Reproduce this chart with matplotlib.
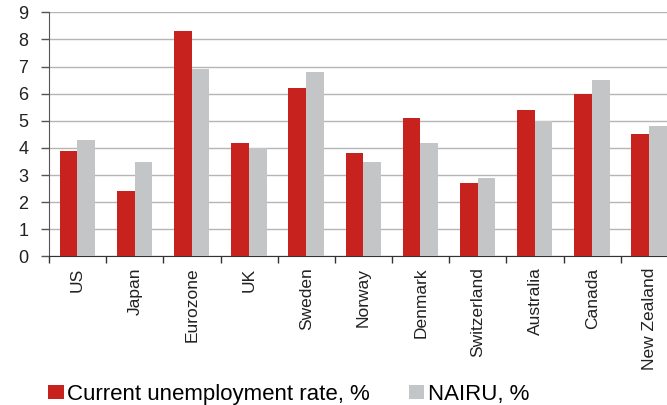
import numpy as np
import matplotlib
matplotlib.use("Agg")
import matplotlib.pyplot as plt

plt.rcParams['font.family'] = ['Liberation Sans', 'DejaVu Sans']

countries = ["US", "Japan", "Eurozone", "UK", "Sweden", "Norway", "Denmark",
             "Switzerland", "Australia", "Canada", "New Zealand"]
current = [3.9, 2.4, 8.3, 4.2, 6.2, 3.8, 5.1, 2.7, 5.4, 6.0, 4.5]
nairu = [4.3, 3.5, 6.9, 4.0, 6.8, 3.5, 4.2, 2.9, 5.0, 6.5, 4.8]

red = '#C8221F'
grey = '#C4C5C7'


def main():
    fig = plt.figure(figsize=(6.67, 4.05), dpi=100)
    # axes runs a bit past the right edge, like the original
    ax = fig.add_axes([0.0735, 0.3667, 0.943, 0.603])

    x = np.arange(len(countries))
    w = 0.31
    ax.bar(x - 0.16, current, w, color=red, label="Current unemployment rate, %", zorder=3)
    ax.bar(x + 0.15, nairu, w, color=grey, label="NAIRU, %", zorder=3)

    ax.set_xlim(-0.5, len(countries) - 0.5)
    ax.set_ylim(0, 9)
    ax.set_yticks(range(10))
    ax.yaxis.grid(True, color='#B5B5B5', linewidth=1.0, zorder=0)
    ax.tick_params(axis='y', length=6, width=1, color='#555555', pad=9,
                   labelsize=13, labelcolor='#222222')

    ax.set_xticks(x)
    ax.set_xticklabels(countries, rotation=90, fontsize=12.5, color='#222222')
    ax.set_xticks(np.arange(-0.5, len(countries), 1), minor=True)
    ax.tick_params(axis='x', which='major', length=0, pad=8)
    ax.tick_params(axis='x', which='minor', length=5, width=1, color='#333333')

    for s in ['top', 'right']:
        ax.spines[s].set_visible(False)
    ax.spines['left'].set_color('#555555')
    ax.spines['bottom'].set_color('#333333')

    fig.legend(loc='lower left', bbox_to_anchor=(0.059, -0.022), ncol=2, frameon=False,
               fontsize=16, handlelength=0.7, handleheight=0.6, handletextpad=0.15,
               columnspacing=1.75, borderaxespad=0)

    fig.savefig("out.png", dpi=100)


if __name__ == "__main__":
    main()
